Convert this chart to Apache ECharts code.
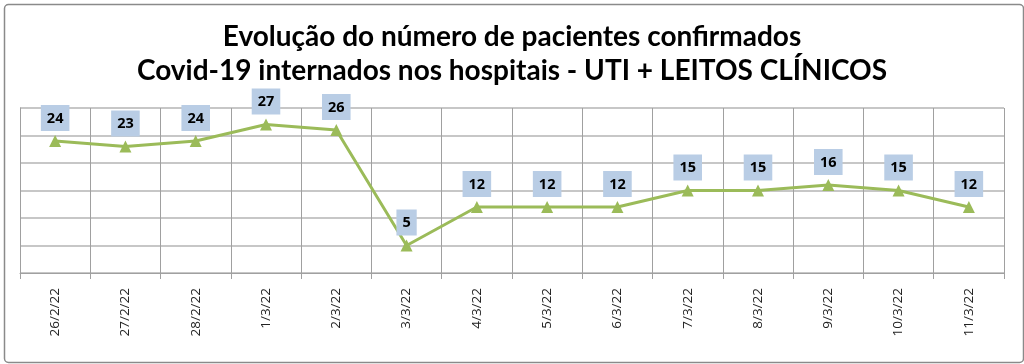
<!DOCTYPE html>
<html>
<head>
<meta charset="utf-8">
<script src="https://cdn.jsdelivr.net/npm/echarts@6/dist/echarts.min.js"></script>
<style>html,body{margin:0;padding:0;background:#fff}#c{width:1024px;height:364px}</style>
</head>
<body>
<div id="c"></div>
<script>
const categories = ['26/2/22','27/2/22','28/2/22','1/3/22','2/3/22','3/3/22','4/3/22','5/3/22','6/3/22','7/3/22','8/3/22','9/3/22','10/3/22','11/3/22'];
const values = [24,23,24,27,26,5,12,12,12,15,15,16,15,12];
const titleLines = ['Evolução do número de pacientes confirmados','Covid-19 internados nos hospitais - UTI + LEITOS CLÍNICOS'];

const chart = echarts.init(document.getElementById('c'));
chart.setOption({
  animation: false,
  backgroundColor: '#fff',
  title: {
    text: titleLines.join('\n'),
    left: 'center', top: 15,
    textStyle: {fontFamily: 'Lato', fontWeight: 'bold', fontSize: 28, color: '#000', lineHeight: 34}
  },
  graphic: [{
    type: 'rect', left: 2, top: 2,
    shape: {width: 1019, height: 358, r: 4},
    style: {fill: 'none', stroke: '#8a8a8a', lineWidth: 1.5},
    silent: true
  }],
  grid: {left: 20, right: 20, top: 108, bottom: 91},
  xAxis: {
    type: 'category', data: categories, boundaryGap: true,
    axisLine: {show: true, lineStyle: {color: '#a0a0a0', width: 1}},
    axisTick: {show: true, length: 6, lineStyle: {color: '#a0a0a0'}},
    splitLine: {show: true, lineStyle: {color: '#a0a0a0', width: 1}},
    axisLabel: {rotate: 90, margin: 15, fontFamily: 'Open Sans', fontSize: 13.5, color: '#222'}
  },
  yAxis: {
    type: 'value', min: 0, max: 30, interval: 5,
    axisLine: {show: true, lineStyle: {color: '#a0a0a0'}},
    axisTick: {show: false},
    axisLabel: {show: false},
    splitLine: {show: true, lineStyle: {color: '#b4b4b4', width: 1.5}}
  },
  series: [{
    type: 'line', data: values,
    lineStyle: {color: '#9bbb59', width: 3},
    itemStyle: {color: '#9bbb59'},
    symbol: 'triangle', symbolSize: 12,
    label: {
      show: true, position: 'top', distance: 4,
      backgroundColor: '#b9cde5', padding: [6, 6, 5, 6],
      fontFamily: 'Open Sans', fontWeight: 'bold', fontSize: 14.5, color: '#000'
    }
  }]
});
</script>
</body>
</html>
